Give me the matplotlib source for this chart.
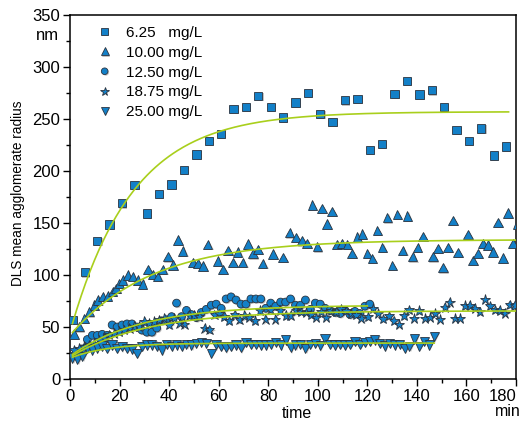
import numpy as np
import matplotlib
matplotlib.use("Agg")
import matplotlib.pyplot as plt
from matplotlib import patheffects as pe

# --- data ---
labels = ["6.25   mg/L", "10.00 mg/L", "12.50 mg/L", "18.75 mg/L", "25.00 mg/L"]

sq_t = np.arange(1, 177, 5)
sq_y = [57, 102.6, 132.7, 148.7, 169, 186.5, 159, 178, 187, 201, 216, 229,
        235.6, 259.6, 261.8, 272.4, 261.8, 251.6, 266, 275, 254.8, 247, 268, 269.5,
        220, 226, 274.3, 286.5, 273.4, 277.6, 261.8, 239.4, 229, 241, 215, 223.7]

tri_t = [1.7, 3.8, 5.8, 7.8, 9.8, 11.2, 13.2, 15.2, 17.2, 18.6, 19.9, 21.3, 23.3, 25.3, 27.3,
         29.3, 31.4, 33.4, 35.4, 37.4, 39.5, 41.5, 43.5, 45.5, 49.6, 51.6, 53.6, 55.6, 59.6, 61.7,
         63.7, 65.7, 67.7, 69.7, 71.8, 73.8, 75.8, 77.8, 81.9, 85.9,
         88.6, 91.3, 93.6, 95.6, 97.8, 99.8, 101.7, 103.7, 105.7, 107.7, 109.7, 111.9, 113.9, 116.0,
         118.0, 120.0, 122.0, 124.0, 126.1, 128.1, 130.1, 132.1, 134.3, 136.2, 138.3, 140.3, 142.5,
         146.5, 148.5, 150.5, 152.6, 154.5, 156.6, 160.6, 162.7, 164.7, 166.7, 168.7, 170.7, 172.8,
         174.8, 176.8, 178.8, 180.6]
tri_y = [43.3, 50.3, 58.3, 64.7, 71.2, 76.0, 79.2, 79.8, 84.0, 87.2, 92.0, 95.2, 100.0, 98.4, 95.2,
         91.3, 105.4, 100.6, 98.4, 105.4, 117.6, 109.6, 133.7, 123.0, 111.9, 111.2, 108.7, 129.5, 113.5, 105.4,
         123.7, 111.9, 122.1, 111.9, 129.8, 120.5, 124.7, 111.2, 120.2, 117.0,
         140.7, 135.9, 133.0, 130.5, 167.3, 127.2, 164.1, 149.0, 161.2, 129.5, 130.1, 129.5, 120.9, 136.5,
         139.4, 120.9, 116.0, 143.0, 126.6, 155.1, 109.3, 158.4, 123.4, 156.7, 117.6, 126.6, 137.2,
         117.6, 125.7, 107.0, 126.6, 152.6, 121.8, 139.1, 113.8, 120.9, 130.5, 128.8, 122.1, 150.7,
         116.3, 159.6, 130.5, 149.0]

circ_t = np.arange(1, 122, 2)
circ_y = [22, 26, 29, 38, 42, 42, 43, 42, 52, 50, 52, 53, 53, 50, 47,
          45, 45, 49, 56, 57, 60, 73, 60, 66, 62, 59, 64, 67, 71, 72,
          68, 77, 79, 76, 72, 72, 77, 77, 77, 68, 73, 70, 74, 74, 77,
          71, 71, 76, 67, 73, 72, 68, 66, 64, 63, 66, 62, 65, 63, 70, 72]

star_t = [1.7, 3.8, 5.8, 7.8, 9.8, 11.8, 13.9, 15.9, 17.9, 19.9, 21.9, 24.0, 26.0, 28.0,
          30.0, 32.0, 34.0, 36.0, 38.1, 40.1, 42.1, 44.2, 46.2, 48.2, 50.2, 52.2, 54.3, 56.3,
          58.3, 60.3, 62.3, 64.3, 66.4, 68.4, 70.4, 72.4, 74.7, 76.7, 78.9, 80.9, 82.9, 84.9, 87.0,
          89.0, 91.0, 93.1, 95.3, 97.3, 99.4, 101.4, 103.4, 105.4, 107.5, 109.5, 111.5, 113.5, 115.5,
          117.6, 120.3, 122.3, 124.3, 126.3, 128.7, 130.6, 132.8, 134.8, 136.8, 138.8, 140.9, 143.2,
          145.2, 147.2, 149.2, 151.2, 153.2, 155.3, 157.3, 159.3, 161.3, 163.3, 165.3, 167.4, 169.4,
          171.4, 173.4, 175.4, 177.4, 179.4]
star_y = [27.9, 29.5, 31.1, 32.7, 34.3, 37.5, 39.1, 42.3, 43.9, 45.5, 47.1, 48.7, 50.3, 50.3,
          55.1, 53.5, 55.1, 56.7, 58.3, 51.9, 58.3, 53.5, 52.6, 60.9, 60.9, 59.9, 48.7, 47.1,
          61.5, 62.5, 60.0, 56.1, 61.5, 56.7, 60.9, 59.3, 56.1, 65.7, 57.4, 66.3, 57.4, 65.7, 60.9,
          60.9, 65.7, 64.7, 64.1, 62.0, 59.3, 64.7, 59.3, 65.4, 64.7, 67.3, 65.4, 63.1, 61.5,
          58.3, 59.9, 67.9, 63.1, 57.7, 60.6, 55.7, 52.5, 60.9, 66.3, 58.3, 65.7, 58.3,
          59.3, 63.1, 57.4, 68.9, 73.7, 58.3, 58.3, 70.5, 70.5, 67.9, 64.7, 76.6, 70.2,
          66.3, 65.7, 63.1, 71.1, 70.5]

dtri_t = np.arange(1, 148, 2)
dtri_y = [20, 19, 21.5, 29.5, 28, 30, 31.7, 29.5, 32.7, 29.5, 31, 29.5, 28.8, 24.6, 31.1,
          32.7, 32.7, 31.1, 27.9, 33.3, 31.1, 32.7, 31.1, 33.3, 32.7, 34.3, 35.3, 34.3, 24.6, 33,
          31.1, 30.1, 31.1, 32.7, 30.1, 35.3, 33.3, 33.3, 32.7, 32.7, 33.3, 35.3, 32.7, 37.5, 30.1,
          32.7, 33.3, 29.5, 33.3, 34.3, 32, 38.5, 33.3, 32.7, 33.3, 32.7, 33.3, 35.9, 33.3, 35.3,
          35.9, 37.5, 34.3, 31.7, 34.3, 32.7, 33.3, 29.5, 31.1, 38.5, 31.1, 35.9, 32.7, 40.7]

# exponential fits: plateau, start value, time constant, t_start, t_end
fit_plateau = [257, 134, 71, 65.5, 34.5]
fit_start = [45, 42, 22, 21, 20]
fit_tau = [25, 33, 28.5, 30.7, 15]
fit_range = [(1, 177), (1, 180), (1, 120), (1, 180), (1, 147)]

series = [(sq_t, sq_y, "s", 6.0), (tri_t, tri_y, "^", 6.8), (circ_t, circ_y, "o", 5.6),
          (star_t, star_y, "*", 7.5), (dtri_t, dtri_y, "v", 6.8)]

plt.rcParams['font.family'] = ['Liberation Sans', 'DejaVu Sans']
plt.rcParams['font.size'] = 12

fig = plt.figure(figsize=(5.25, 4.25), dpi=100)
ax = fig.add_axes([70 / 525, 1 - 379 / 425, 446 / 525, 364 / 425])

face = '#1380c8'
edge = '#2b3440'
shadow = [pe.SimplePatchShadow(offset=(0.8, -0.8), shadow_rgbFace='#888888', alpha=0.5), pe.Normal()]

for (t, y, m, ms), lab in zip(series, labels):
    ax.plot(t, y, ls='none', marker=m, ms=ms, mfc=face, mec=edge, mew=0.6,
            label=lab, path_effects=shadow, zorder=3)

for A, y0, tau, (t0, t1) in zip(fit_plateau, fit_start, fit_tau, fit_range):
    tt = np.linspace(t0, t1, 300)
    ax.plot(tt, A - (A - y0) * np.exp(-tt / tau), color='#a9cf1c', lw=1.2, zorder=4)

ax.set_xlim(0, 180)
ax.set_ylim(0, 350)
ax.set_xticks(np.arange(0, 181, 20))
ax.set_xticks(np.arange(0, 181, 10), minor=True)
ax.set_yticks(np.arange(0, 351, 50))
ax.set_yticks(np.arange(0, 351, 25), minor=True)
ax.tick_params(which='both', direction='out', top=False, right=False, width=1, labelsize=12)
ax.tick_params(which='major', length=5, pad=2)
ax.tick_params(which='minor', length=3)
for s in ax.spines.values():
    s.set_linewidth(1.1)

xl = ax.get_xticklabels()
xl[-1].set_ha('right')

fig.text(47 / 525, 1 - 35 / 425, 'nm', ha='center', va='center', fontsize=12)
fig.text(508 / 525, 1 - 411 / 425, 'min', ha='center', va='center', fontsize=11.5)
fig.text(297 / 525, 1 - 414 / 425, 'time', ha='center', va='center', fontsize=11.5)
fig.text(18 / 525, 1 - 193 / 425, 'DLS mean agglomerate radius', rotation=90,
         ha='center', va='center', fontsize=9.8)

ax.legend(loc='upper left', bbox_to_anchor=(0.04, 0.995), frameon=False, markerscale=0.85,
          fontsize=11, handlelength=1.0, handletextpad=0.9, labelspacing=0.38, borderaxespad=0.2)

fig.savefig('out.png', dpi=100)
